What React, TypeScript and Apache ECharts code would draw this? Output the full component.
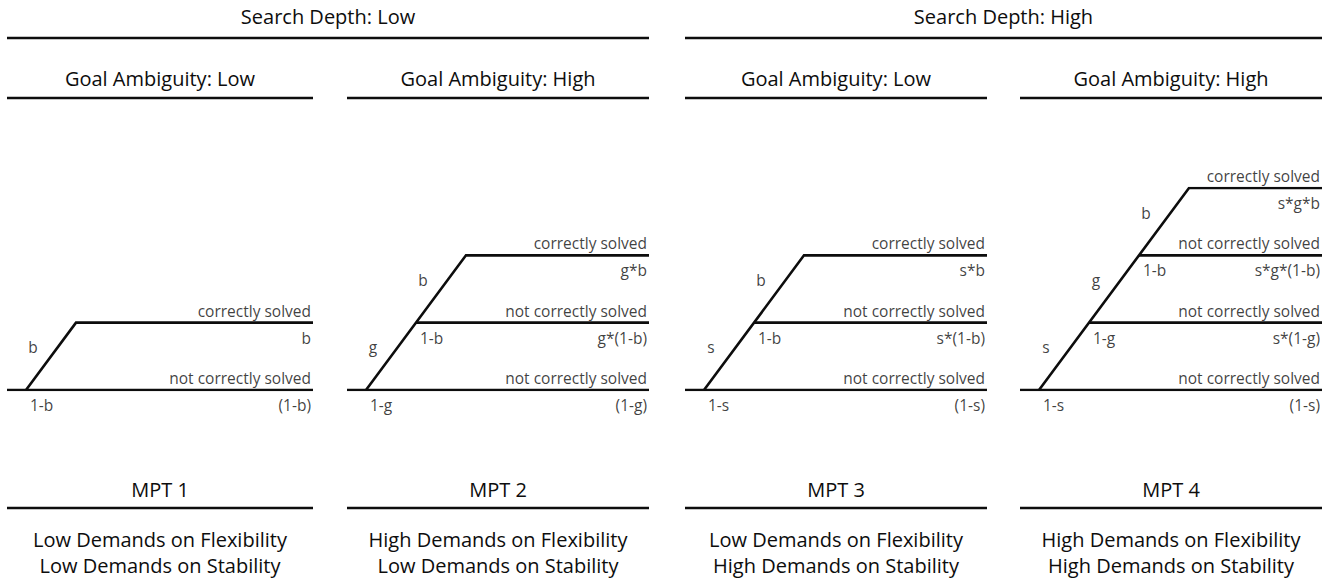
import React, { useEffect, useRef } from "react";
import * as echarts from "echarts";

// ---- data ----
const searchDepthLabels = ["Search Depth: Low", "Search Depth: High"];
const goalLabels = ["Goal Ambiguity: Low", "Goal Ambiguity: High", "Goal Ambiguity: Low", "Goal Ambiguity: High"];
const mptLabels = ["MPT 1", "MPT 2", "MPT 3", "MPT 4"];
const flexLabels = ["Low Demands on Flexibility", "High Demands on Flexibility", "Low Demands on Flexibility", "High Demands on Flexibility"];
const stabLabels = ["Low Demands on Stability", "Low Demands on Stability", "High Demands on Stability", "High Demands on Stability"];

// branch parameters from the root upwards
const treeParams = [["b"], ["g", "b"], ["s", "b"], ["s", "g", "b"]];
// complementary branch labels at each junction (root upwards)
const treeFails = [["1-b"], ["1-g", "1-b"], ["1-s", "1-b"], ["1-s", "1-g", "1-b"]];
// outcome probabilities per level (bottom level first)
const treeProbs = [
  ["(1-b)", "b"],
  ["(1-g)", "g*(1-b)", "g*b"],
  ["(1-s)", "s*(1-b)", "s*b"],
  ["(1-s)", "s*(1-g)", "s*g*(1-b)", "s*g*b"],
];
const correctLabel = "correctly solved";
const wrongLabel = "not correctly solved";

// ---- layout ----
const W = 1329;
const H = 579;
const panelLefts = [7, 347, 685, 1020];
const panelWidths = [306, 302, 302, 302];
const treeTop = 188;
const treeBottom = 390;
const maxLevel = 3;
const rootX = 19;
const stepX = 50;
const INK = "#0d0d0d";
const FONT = "'Open Sans', 'Noto Sans', sans-serif";
const LW = 2.6;

export default function App() {
  const ref = useRef<HTMLDivElement>(null);
  useEffect(() => {
    document.body.style.margin = "0";
    const chart = echarts.init(ref.current!, null, { renderer: "svg" });

    const grids: any[] = [];
    const xAxes: any[] = [];
    const yAxes: any[] = [];
    const series: any[] = [];

    panelLefts.forEach((left, i) => {
      const pw = panelWidths[i];
      grids.push({ left, top: treeTop, width: pw, height: treeBottom - treeTop });
      xAxes.push({ type: "value", gridIndex: i, min: 0, max: pw, show: false });
      yAxes.push({ type: "value", gridIndex: i, min: 0, max: maxLevel, show: false });

      const params = treeParams[i];
      const n = params.length;
      const lineData: any[] = [];
      lineData.push({ coords: [[0, 0], [pw, 0]] });
      for (let k = 1; k < n; k++) {
        lineData.push({ coords: [[rootX + stepX * k, k], [pw, k]] });
      }
      lineData.push({ coords: [[rootX, 0], [rootX + stepX * n, n], [pw, n]] });
      series.push({
        type: "lines",
        coordinateSystem: "cartesian2d",
        xAxisIndex: i,
        yAxisIndex: i,
        polyline: true,
        silent: true,
        lineStyle: { color: INK, width: LW, opacity: 1, join: "miter" },
        data: lineData,
      });

      const labelData: any[] = [];
      const txt = { color: INK, fontFamily: FONT, fontSize: 15.5 };
      params.forEach((p, k) => {
        labelData.push({
          value: [rootX + stepX * (k + 0.5), k + 0.5],
          label: { ...txt, formatter: p, align: "center", verticalAlign: "middle", offset: [-18, -9] },
        });
      });
      treeFails[i].forEach((f, k) => {
        labelData.push({
          value: [rootX + stepX * k, k],
          label: { ...txt, formatter: f, align: "left", verticalAlign: "middle", offset: [4, 15] },
        });
      });
      treeProbs[i].forEach((pr, k) => {
        labelData.push({
          value: [pw - 2, k],
          label: { ...txt, formatter: k === n ? correctLabel : wrongLabel, align: "right", verticalAlign: "middle", offset: [0, -12] },
        });
        labelData.push({
          value: [pw - 2, k],
          label: { ...txt, formatter: pr, align: "right", verticalAlign: "middle", offset: [0, 15] },
        });
      });
      series.push({
        type: "scatter",
        xAxisIndex: i,
        yAxisIndex: i,
        symbolSize: 0,
        silent: true,
        label: { show: true, position: "inside" },
        data: labelData,
      });
    });

    const graphic: any[] = [];
    const text = (t: string, x: number, y: number, size = 20) => ({
      type: "text",
      x,
      y,
      silent: true,
      style: {
        text: t,
        fill: INK,
        font: `${size}px ${FONT}`,
        textAlign: "center",
        textVerticalAlign: "middle",
        align: "center",
        verticalAlign: "middle",
      },
    });
    const rule = (x1: number, x2: number, y: number) => ({
      type: "line",
      silent: true,
      shape: { x1, y1: y, x2, y2: y },
      style: { stroke: INK, lineWidth: LW },
    });

    searchDepthLabels.forEach((t, j) => {
      const x1 = panelLefts[j * 2];
      const x2 = panelLefts[j * 2 + 1] + panelWidths[j * 2 + 1];
      graphic.push(text(t, (x1 + x2) / 2, 16));
      graphic.push(rule(x1, x2, 38));
    });
    panelLefts.forEach((left, i) => {
      const pw = panelWidths[i];
      const cx = left + pw / 2;
      graphic.push(text(goalLabels[i], cx, 78));
      graphic.push(rule(left, left + pw, 98));
      graphic.push(text(mptLabels[i], cx, 489));
      graphic.push(rule(left, left + pw, 508));
      graphic.push(text(flexLabels[i], cx, 539));
      graphic.push(text(stabLabels[i], cx, 565));
    });

    chart.setOption({
      animation: false,
      backgroundColor: "#ffffff",
      grid: grids,
      xAxis: xAxes,
      yAxis: yAxes,
      series,
      graphic,
    });
    return () => chart.dispose();
  }, []);
  return <div ref={ref} style={{ width: W, height: H }} />;
}
